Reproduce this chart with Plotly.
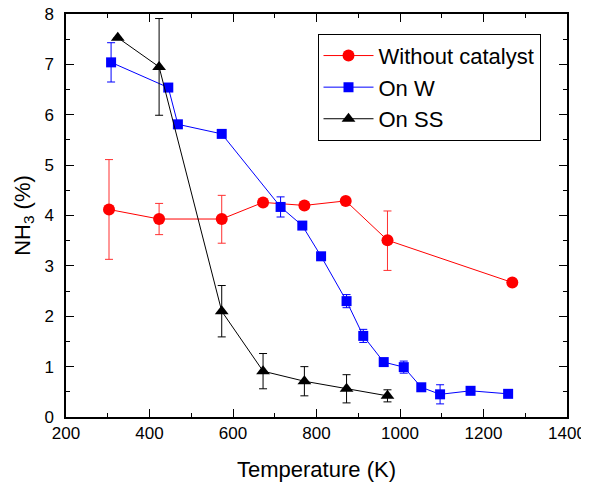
import plotly.graph_objects as go

# Without catalyst
red_x = [303, 423, 573, 672, 771, 870, 970, 1269]
red_y = [4.12, 3.93, 3.93, 4.26, 4.20, 4.29, 3.51, 2.67]
red_err_plus = [0.99, 0.31, 0.47, 0, 0, 0, 0.58, 0]
red_err_minus = [0.99, 0.31, 0.48, 0, 0, 0, 0.60, 0]

# On W
blue_x = [308, 445, 468, 573, 714, 766, 811, 872, 912, 961, 1009, 1051, 1096, 1169, 1259]
blue_y = [7.04, 6.54, 5.81, 5.62, 4.17, 3.80, 3.19, 2.30, 1.61, 1.09, 0.99, 0.59, 0.45, 0.52, 0.46]
blue_err = [0.39, 0, 0, 0, 0.20, 0, 0, 0.13, 0.13, 0, 0.12, 0, 0.19, 0, 0]

# On SS
black_x = [324, 423, 573, 672, 771, 872, 970]
black_y = [7.53, 6.95, 2.10, 0.91, 0.71, 0.56, 0.42]
black_err = [0, 0.96, 0.51, 0.35, 0.29, 0.28, 0.12]

x_tickvals = [200, 400, 600, 800, 1000, 1200, 1400]
y_tickvals = [0, 1, 2, 3, 4, 5, 6, 7, 8]

FONT = "Liberation Sans, Arial, sans-serif"

fig = go.Figure()
fig.add_trace(go.Scatter(
    x=red_x, y=red_y, name="Without catalyst", mode="lines+markers",
    line=dict(color="#FF0000", width=1),
    marker=dict(symbol="circle", size=12, color="#FF0000"),
    error_y=dict(type="data", array=red_err_plus, arrayminus=red_err_minus,
                 color="#FF3030", thickness=1, width=4),
))
fig.add_trace(go.Scatter(
    x=blue_x, y=blue_y, name="On W", mode="lines+markers",
    line=dict(color="#0000FF", width=1),
    marker=dict(symbol="square", size=10, color="#0000FF"),
    error_y=dict(type="data", array=blue_err, color="#0000FF", thickness=1, width=4),
))
fig.add_trace(go.Scatter(
    x=black_x, y=black_y, name="On SS", mode="lines+markers",
    line=dict(color="#000000", width=1),
    marker=dict(symbol="triangle-up", size=12, color="#000000"),
    error_y=dict(type="data", array=black_err, color="#000000", thickness=1, width=4),
))

axis_common = dict(
    showline=True, linecolor="black", linewidth=1.5, mirror="allticks",
    ticks="inside", ticklen=8, tickwidth=1.2, tickcolor="black",
    showgrid=False, zeroline=False, ticklabeloverflow="allow",
    tickfont=dict(family=FONT, size=17, color="black"),
)

fig.update_xaxes(
    range=[200, 1400], tickvals=x_tickvals, automargin="bottom",
    minor=dict(dtick=100, ticks="inside", ticklen=4, tickcolor="black", tickwidth=1.2),
    title=dict(text="Temperature (K)", font=dict(family=FONT, size=22, color="black"), standoff=19),
    **axis_common,
)
fig.update_yaxes(
    range=[0, 8], tickvals=y_tickvals, ticklabelstandoff=7, automargin="left",
    minor=dict(dtick=0.5, ticks="inside", ticklen=4, tickcolor="black", tickwidth=1.2),
    title=dict(text="NH<sub>3</sub> (%)", font=dict(family=FONT, size=22, color="black"), standoff=8),
    **axis_common,
)

# The page body has an 8px margin, so the figure is sized to fit the window.
fig.update_layout(
    width=581, height=479,
    margin=dict(l=58, r=22, t=6, b=70),
    paper_bgcolor="white", plot_bgcolor="white",
    font=dict(family=FONT, color="black"),
    showlegend=True,
    legend=dict(
        x=0.502, y=0.951, xanchor="left", yanchor="top",
        bordercolor="black", borderwidth=1, bgcolor="white",
        font=dict(family=FONT, size=22, color="black"),
        itemwidth=50, tracegroupgap=0,
    ),
)

fig.write_html("out.html")
